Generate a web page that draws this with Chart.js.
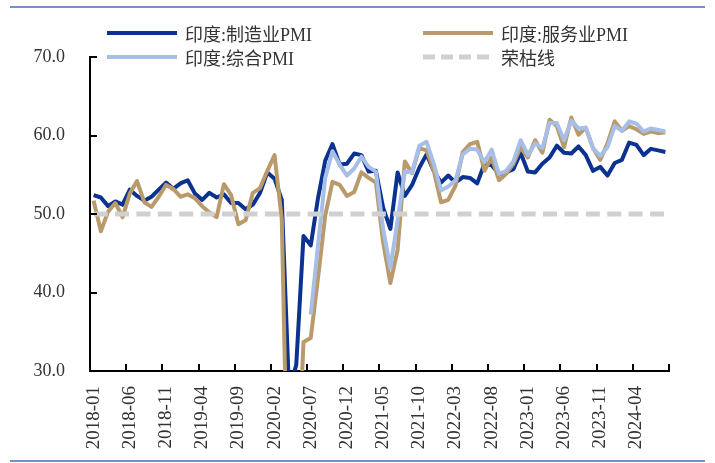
<!DOCTYPE html>
<html>
<head>
<meta charset="utf-8">
<script src="https://cdn.jsdelivr.net/npm/chart.js@4.4.1/dist/chart.umd.min.js"></script>
<style>
  body { margin: 0; background: #fff; }
  #wrap { position: relative; width: 715px; height: 463px; }
  .rule { position: absolute; left: 10px; width: 695px; height: 2px; background: #7390c8; }
  .leg { position: absolute; height: 24px; display: flex; align-items: center; white-space: nowrap;
         font: 18px "Liberation Serif", "Noto Sans CJK SC", serif; color: #333; }
  .leg svg { margin-right: 8px; }
</style>
</head>
<body>
<div id="wrap">
  <div class="rule" style="top:6px"></div>
  <div class="rule" style="top:460px"></div>
  <canvas id="c"></canvas>
</div>
<script>
// months 2018-01 .. 2024-08
var months = [];
for (var yr = 2018; yr <= 2024; yr++) {
  for (var m = 1; m <= 12; m++) {
    if (yr === 2024 && m > 8) break;
    months.push(yr + '-' + (m < 10 ? '0' + m : m));
  }
}

var seriesNames = ['印度:制造业PMI', '印度:服务业PMI', '印度:综合PMI', '荣枯线'];

var mfgPMI = [
  52.4, 52.1, 51.0, 51.6, 51.2, 53.1, 52.3, 51.7, 52.2, 53.1, 54.0, 53.2,
  53.9, 54.3, 52.6, 51.8, 52.7, 52.1, 52.5, 51.4, 51.4, 50.6, 51.2, 52.7,
  55.3, 54.5, 51.8, 27.4, 30.8, 47.2, 46.0, 52.0, 56.8, 58.9, 56.3, 56.4,
  57.7, 57.5, 55.4, 55.5, 50.8, 48.1, 55.3, 52.3, 53.7, 55.9, 57.6, 55.5,
  54.0, 54.9, 54.0, 54.7, 54.6, 53.9, 56.4, 56.2, 55.1, 55.3, 55.7, 57.8,
  55.4, 55.3, 56.4, 57.2, 58.7, 57.8, 57.7, 58.6, 57.5, 55.5, 56.0, 54.9,
  56.5, 56.9, 59.1, 58.8, 57.5, 58.3, 58.1, 57.9
];

var servicesPMI = [
  51.7, 47.8, 50.3, 51.4, 49.6, 52.6, 54.2, 51.5, 50.9, 52.2, 53.7, 53.2,
  52.2, 52.5, 52.0, 51.0, 50.2, 49.6, 53.8, 52.4, 48.7, 49.2, 52.7, 53.3,
  55.5, 57.5, 49.3, 5.4, 12.6, 33.7, 34.2, 41.8, 49.8, 54.1, 53.7, 52.3,
  52.8, 55.3, 54.6, 54.0, 46.4, 41.2, 45.4, 56.7, 55.2, 58.4, 58.1, 55.5,
  51.5, 51.8, 53.6, 57.9, 58.9, 59.2, 55.5, 57.2, 54.3, 55.1, 56.4, 58.5,
  57.2, 59.4, 57.8, 62.0, 61.2, 58.5, 62.3, 60.1, 61.0, 58.4, 56.9, 59.0,
  61.8, 60.6, 61.2, 60.8, 60.2, 60.5, 60.3, 60.4
];

// composite series only starts in 2020-07
var compositePMI = [
  null, null, null, null, null, null, null, null, null, null, null, null,
  null, null, null, null, null, null, null, null, null, null, null, null,
  null, null, null, null, null, null, 37.2, 46.0, 54.6, 58.0, 56.3, 54.9,
  55.8, 57.3, 56.0, 55.4, 48.1, 43.1, 49.2, 55.4, 55.3, 58.7, 59.2, 56.4,
  53.0, 53.5, 54.3, 57.6, 58.3, 58.2, 56.6, 58.2, 55.1, 55.5, 56.7, 59.4,
  57.5, 59.0, 58.4, 61.6, 61.6, 59.4, 61.9, 60.9, 61.0, 58.4, 57.4, 58.5,
  61.2, 60.6, 61.8, 61.5, 60.5, 60.9, 60.7, 60.5
];

var boomBust = 50;
var yTicks = [30, 40, 50, 60, 70];

var colors = ['#0b3290', '#b99a6a', '#a7bee7', '#d0d0d0'];
var fontFam = '"Liberation Serif", "Noto Sans CJK SC", serif';

// html legend, 2 x 2
var legPos = [[107, 21], [423, 21], [107, 45], [423, 45]];
seriesNames.forEach(function(name, i) {
  var d = document.createElement('div');
  d.className = 'leg';
  d.style.left = legPos[i][0] + 'px';
  d.style.top = legPos[i][1] + 'px';
  var dash = i === 3 ? ' stroke-dasharray="12 6"' : '';
  d.innerHTML = '<svg width="70" height="6"><line x1="0" y1="3" x2="70" y2="3" stroke="' + colors[i] +
    '" stroke-width="' + (i === 3 ? 5 : 4) + '"' + dash + '/></svg>' + name;
  document.getElementById('wrap').appendChild(d);
});

// short inside tick marks on both axes
var tickMarks = {
  id: 'tickMarks',
  afterDraw: function(chart) {
    var ctx = chart.ctx, a = chart.chartArea, x = chart.scales.x, y = chart.scales.y;
    var step = x.getPixelForValue(1) - x.getPixelForValue(0);
    ctx.save();
    ctx.strokeStyle = '#000';
    ctx.lineWidth = 2;
    ctx.beginPath();
    for (var i = 0; i <= months.length; i += 5) {
      var px = Math.round(x.getPixelForValue(0) - step / 2 + i * step);
      ctx.moveTo(px, a.bottom);
      ctx.lineTo(px, a.bottom - 7);
    }
    yTicks.forEach(function(v) {
      var py = Math.round(y.getPixelForValue(v));
      ctx.moveTo(a.left, py);
      ctx.lineTo(a.left + 7, py);
    });
    ctx.stroke();
    ctx.restore();
  }
};

function lineSet(label, data, color, order) {
  return {
    label: label, data: data, borderColor: color, backgroundColor: color,
    borderWidth: 4, pointRadius: 0, tension: 0, clip: 0, order: order,
    borderJoinStyle: 'round'
  };
}

var boomLine = lineSet(seriesNames[3], months.map(function() { return boomBust; }), colors[3], 1);
boomLine.borderWidth = 5;
boomLine.borderDash = [14, 7.4];

new Chart(document.getElementById('c'), {
  type: 'line',
  data: {
    labels: months,
    datasets: [
      lineSet(seriesNames[0], mfgPMI, colors[0], 4),
      lineSet(seriesNames[1], servicesPMI, colors[1], 3),
      lineSet(seriesNames[2], compositePMI, colors[2], 2),
      boomLine
    ]
  },
  options: {
    responsive: true,
    maintainAspectRatio: false,
    animation: false,
    layout: { padding: { top: 57, right: 46, bottom: 0, left: 0 } },
    plugins: { legend: { display: false }, tooltip: { enabled: false } },
    scales: {
      x: {
        type: 'category',
        offset: true,
        grid: { display: true, drawOnChartArea: false, drawTicks: false },
        border: { display: true, color: '#000', width: 2 },
        ticks: {
          autoSkip: false, maxRotation: 90, minRotation: 90, padding: 15,
          color: '#333', font: { family: fontFam, size: 19 },
          callback: function(v, i) { return i % 5 === 0 ? months[i] : null; }
        },
        afterFit: function(s) { s.height = 92; }
      },
      y: {
        min: 30, max: 70,
        grid: { display: true, drawOnChartArea: false, drawTicks: false },
        border: { display: true, color: '#000', width: 2 },
        ticks: {
          stepSize: 10, padding: 25, color: '#333',
          font: { family: fontFam, size: 18 },
          callback: function(v) { return v.toFixed(1); }
        },
        afterFit: function(s) { s.width = 90; }
      }
    }
  },
  plugins: [tickMarks]
});
</script>
</body>
</html>
